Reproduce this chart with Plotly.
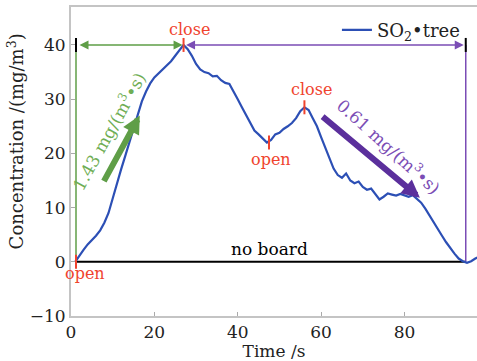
import plotly.graph_objects as go

# SO2 concentration in the tree chamber over time
time_s = [1, 2, 3, 4, 5, 6, 7, 8, 9, 10, 11, 12, 13, 14, 15, 16, 17, 18, 19, 20,
          21, 22, 23, 24, 25, 26, 27, 28, 29, 30, 31, 32, 33, 34, 35, 36, 37, 38, 39, 40,
          41, 42, 43, 44, 45, 46, 47, 48, 49, 50, 51, 52, 53, 54, 55, 56, 57, 58, 59, 60,
          61, 62, 63, 64, 65, 66, 67, 68, 69, 70, 71, 72, 73, 74, 75, 76, 77, 78, 79, 80,
          81, 82, 83, 84, 85, 86, 87, 88, 89, 90, 91, 92, 93, 94, 95, 96, 97, 98]
so2_tree = [0.0, 1.2, 2.2, 3.2, 4.0, 4.8, 5.8, 7.2, 9.0, 11.8, 14.5, 17.0, 19.5, 22.0, 24.5, 27.3, 29.6, 31.4, 32.9, 34.0,
            34.8, 35.5, 36.2, 37.0, 38.0, 39.0, 40.0, 39.2, 38.0, 36.5, 35.5, 35.0, 34.8, 34.2, 34.3, 33.5, 33.0, 32.8, 31.5, 30.0,
            28.5, 27.0, 25.5, 24.2, 23.5, 22.8, 22.0, 22.5, 23.5, 23.8, 24.5, 25.0, 25.6, 26.5, 27.8, 28.5, 28.0, 26.5, 25.0, 23.0,
            21.0, 19.0, 17.2, 16.0, 15.5, 16.3, 15.0, 14.5, 14.8, 13.8, 13.3, 13.5, 12.5, 11.5, 12.0, 12.6, 12.4, 12.2, 12.5, 12.3,
            12.0, 12.3, 11.6, 10.9, 9.8, 8.5, 7.2, 6.0, 4.8, 3.6, 2.5, 1.5, 0.6, 0.1, -0.2, 0.1, 0.6, 1.0]

# Valve events: (time, concentration, label)
event_t = [1.2, 27, 47.5, 56]
event_c = [0, 40, 22, 28.5]
event_label = ["open", "close", "open", "close"]

# Phase boundaries
rise_start, rise_end = 1.2, 27
fall_end = 94.7
span_level = 40

# Rate arrows: (tail_t, tail_c, head_t, head_c)
rise_arrow = [7.7, 14.6, 16.5, 27.0]
fall_arrow = [60.0, 27.0, 83.7, 11.8]
rise_rate = "1.43 mg/(m<sup>3</sup>•s)"
fall_rate = "0.61 mg/(m<sup>3</sup>•s)"

x_ticks = [0, 20, 40, 60, 80]
y_ticks = [-10, 0, 10, 20, 30, 40]

FONT = "DejaVu Serif"
BLUE = "#2c4fb5"
GREEN = "#5f9e47"
GREEN_TXT = "#6fae55"
PURPLE = "#7b4db5"
PURPLE_DARK = "#5b2f9c"
RED = "#f0432e"

fig = go.Figure()

# no-board baseline
fig.add_trace(go.Scatter(x=[rise_start, fall_end], y=[0, 0], mode="lines",
                         line=dict(color="black", width=2), showlegend=False, hoverinfo="skip"))
# phase boundary verticals
fig.add_trace(go.Scatter(x=[rise_start, rise_start], y=[0, span_level], mode="lines",
                         line=dict(color=GREEN, width=1.5), showlegend=False, hoverinfo="skip"))
fig.add_trace(go.Scatter(x=[fall_end, fall_end], y=[0, span_level], mode="lines",
                         line=dict(color=PURPLE, width=1.5), showlegend=False, hoverinfo="skip"))

fig.add_trace(go.Scatter(x=time_s, y=so2_tree, mode="lines",
                         line=dict(color=BLUE, width=2.2),
                         name="SO<sub>2</sub>•tree"))

# end ticks of the span arrows
fig.add_trace(go.Scatter(x=[rise_start, fall_end], y=[span_level, span_level], mode="markers",
                         marker=dict(symbol="line-ns-open", size=10, color="black",
                                     line=dict(color="black", width=2)),
                         showlegend=False, hoverinfo="skip"))
# valve event ticks
fig.add_trace(go.Scatter(x=event_t, y=event_c, mode="markers",
                         marker=dict(symbol="line-ns-open", size=10, color=RED,
                                     line=dict(color=RED, width=2)),
                         showlegend=False, hoverinfo="skip"))

# span arrows
fig.add_annotation(x=rise_end, y=span_level, ax=rise_start, ay=span_level,
                   xref="x", yref="y", axref="x", ayref="y", text="",
                   showarrow=True, arrowside="end+start", arrowhead=2, startarrowhead=2,
                   arrowsize=1.2, startarrowsize=1.2, arrowwidth=1.5, arrowcolor=GREEN,
                   standoff=1, startstandoff=2)
fig.add_annotation(x=fall_end, y=span_level, ax=rise_end, ay=span_level,
                   xref="x", yref="y", axref="x", ayref="y", text="",
                   showarrow=True, arrowside="end+start", arrowhead=2, startarrowhead=2,
                   arrowsize=1.2, startarrowsize=1.2, arrowwidth=1.5, arrowcolor=PURPLE,
                   standoff=2, startstandoff=1)

# rate arrows
fig.add_annotation(x=rise_arrow[2], y=rise_arrow[3], ax=rise_arrow[0], ay=rise_arrow[1],
                   xref="x", yref="y", axref="x", ayref="y", text="",
                   showarrow=True, arrowhead=2, arrowsize=0.6, arrowwidth=6, arrowcolor=GREEN)
fig.add_annotation(x=fall_arrow[2], y=fall_arrow[3], ax=fall_arrow[0], ay=fall_arrow[1],
                   xref="x", yref="y", axref="x", ayref="y", text="",
                   showarrow=True, arrowhead=2, arrowsize=0.6, arrowwidth=6, arrowcolor=PURPLE_DARK)

# rate labels
fig.add_annotation(x=8.9, y=24.2, xref="x", yref="y", text=rise_rate, showarrow=False,
                   textangle=-61, font=dict(family=FONT, size=17, color=GREEN_TXT))
fig.add_annotation(x=76.3, y=21.3, xref="x", yref="y", text=fall_rate, showarrow=False,
                   textangle=42, font=dict(family=FONT, size=17, color=PURPLE))

# valve event labels
label_pos = [(3.4, -2.2), (28.5, 42.8), (48, 18.8), (57.8, 31.7)]
for (lx, ly), txt in zip(label_pos, event_label):
    fig.add_annotation(x=lx, y=ly, xref="x", yref="y", text=txt, showarrow=False,
                       font=dict(family=FONT, size=16, color=RED))

fig.add_annotation(x=47.5, y=2.4, xref="x", yref="y", text="no board", showarrow=False,
                   font=dict(family=FONT, size=17, color="black"))

# y-axis title
fig.add_annotation(x=-0.17, y=0.565, xref="paper", yref="paper", text="Concentration /(mg/m<sup>3</sup>)",
                   showarrow=False, textangle=-90,
                   font=dict(family=FONT, size=18, color="#222"))

axis_common = dict(showgrid=False, zeroline=False, showline=True, linecolor="#c4c4c4",
                   linewidth=2, ticks="inside", ticklen=4, tickcolor="#aaaaaa",
                   tickfont=dict(family=FONT, size=17, color="#222"))

fig.update_layout(
    width=477, height=361,
    margin=dict(l=71, r=0, t=7, b=45),
    paper_bgcolor="white", plot_bgcolor="white",
    xaxis=dict(range=[0, 97.4], tickvals=x_ticks, mirror=True,
               title=dict(text="Time /s", font=dict(family=FONT, size=17, color="#222"), standoff=2),
               **axis_common),
    yaxis=dict(range=[-10, 47], tickvals=y_ticks, ticktext=["\u221210", "0", "10", "20", "30", "40"],
               **axis_common),
    legend=dict(x=0.655, y=0.985, xanchor="left", yanchor="top", bgcolor="rgba(0,0,0,0)",
                font=dict(family=FONT, size=18, color="#222"), itemwidth=30),
    showlegend=True,
)

fig.write_html("out.html")
